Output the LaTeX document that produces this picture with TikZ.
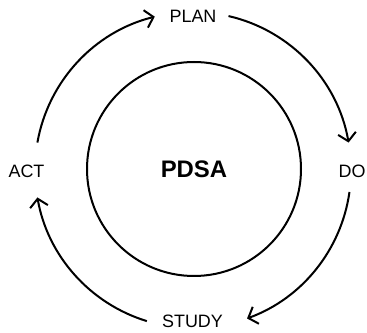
\documentclass[tikz,border=0pt]{standalone}
\usepackage{fontspec}
\setmainfont{Liberation Sans}
\usetikzlibrary{arrows.meta}

\begin{document}
\begin{tikzpicture}[>={Straight Barb[length=8bp,width=18bp]},line join=bevel,
  stage/.style={font=\fontsize{18}{21}\selectfont},
  cycle/.style={line width=2bp,->}]
\useasboundingbox (0bp,0bp) rectangle (367bp,333bp);
%%
\begin{scope}
  \node (PDSA) at (194bp,164bp) [draw,circle,line width=2bp,minimum size=214bp,inner sep=0pt,font=\bfseries\fontsize{24}{27}\selectfont] {PDSA};
  \node (PLAN) at (193bp,316.5bp) [stage] {PLAN};
  \node (DO) at (352bp,162bp) [stage] {DO};
  \node (STUDY) at (192.5bp,11.5bp) [stage] {STUDY};
  \node (ACT) at (26.5bp,162bp) [stage] {ACT};
\end{scope}
\begin{scope}
  \coordinate (hub) at (193bp,163bp);
  \coordinate (from ACT) at ([shift={(170:158bp)}]hub);
  \coordinate (from PLAN) at ([shift={(77:158bp)}]hub);
  \coordinate (from DO) at ([shift={(-8:158bp)}]hub);
  \coordinate (from STUDY) at ([shift={(-107:158bp)}]hub);
  \draw [cycle] (from ACT) arc[start angle=170,end angle=104,radius=158bp];
  \draw [cycle] (from PLAN) arc[start angle=77,end angle=10,radius=158bp];
  \draw [cycle] (from DO) arc[start angle=-8,end angle=-70,radius=158bp];
  \draw [cycle] (from STUDY) arc[start angle=-107,end angle=-170,radius=158bp];
\end{scope}
%
\end{tikzpicture}
\end{document}
